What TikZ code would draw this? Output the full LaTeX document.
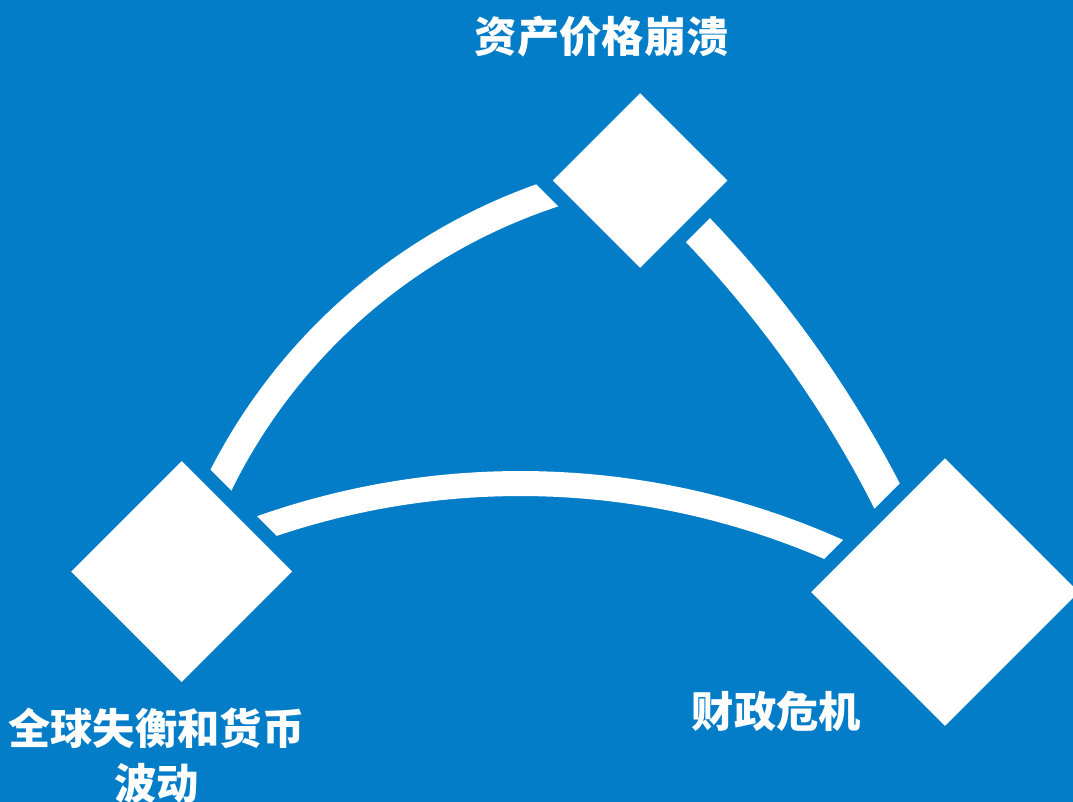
\documentclass[tikz,border=0pt]{standalone}
\usepackage{fontspec}
\newfontfamily\cjk{Noto Sans CJK SC}
\usetikzlibrary{shapes.geometric}
\definecolor{bg}{RGB}{3,125,199}
\begin{document}
\begin{tikzpicture}[x=1pt,y=-1pt,
  band/.style={draw=white, line width=#1, line cap=butt},
  gem/.style={diamond, fill=white, draw=bg, line width=14pt, inner sep=0pt, outer sep=0pt, minimum width=#1, minimum height=#1},
  lbl/.style={text=white, font=\cjk\bfseries\fontsize{42.3}{55}\selectfont, align=center, inner sep=0pt}]
\fill[bg] (0,0) rectangle (1073,802);
\useasboundingbox (0,0) rectangle (1073,802);
\clip (0,0) rectangle (1073,802);
% centres of the three arcs
\coordinate (cL) at (732.1,736.5);
\coordinate (cB) at (520.4,1261.1);
\coordinate (cR) at (-116.9,1010.1);
% bands
\draw[band=28pt, shift={(cL)}] plot[domain=203:254, samples=90] (\x:571.9);
\draw[band=25pt, shift={(cB)}] plot[domain=248:297, samples=90] (\x:777.6);
\draw[band=34pt, shift={(cR)}] plot[domain=314.5:334.5, samples=60] (\x:1128);
% diamonds
\node[gem=241.2pt] (glob) at (181.7,571.5) {};
\node[gem=194.8pt] (asset) at (640,180.5) {};
\node[gem=287.8pt] (fisc) at (945,592.2) {};
% labels
\node[lbl] (tA) at (601.7,37) {资产价格崩溃};
\node[lbl] (tB) at (156.3,755.5) {全球失衡和货币\\波动};
\node[lbl] (tC) at (776.5,711.5) {财政危机};
\end{tikzpicture}
\end{document}
